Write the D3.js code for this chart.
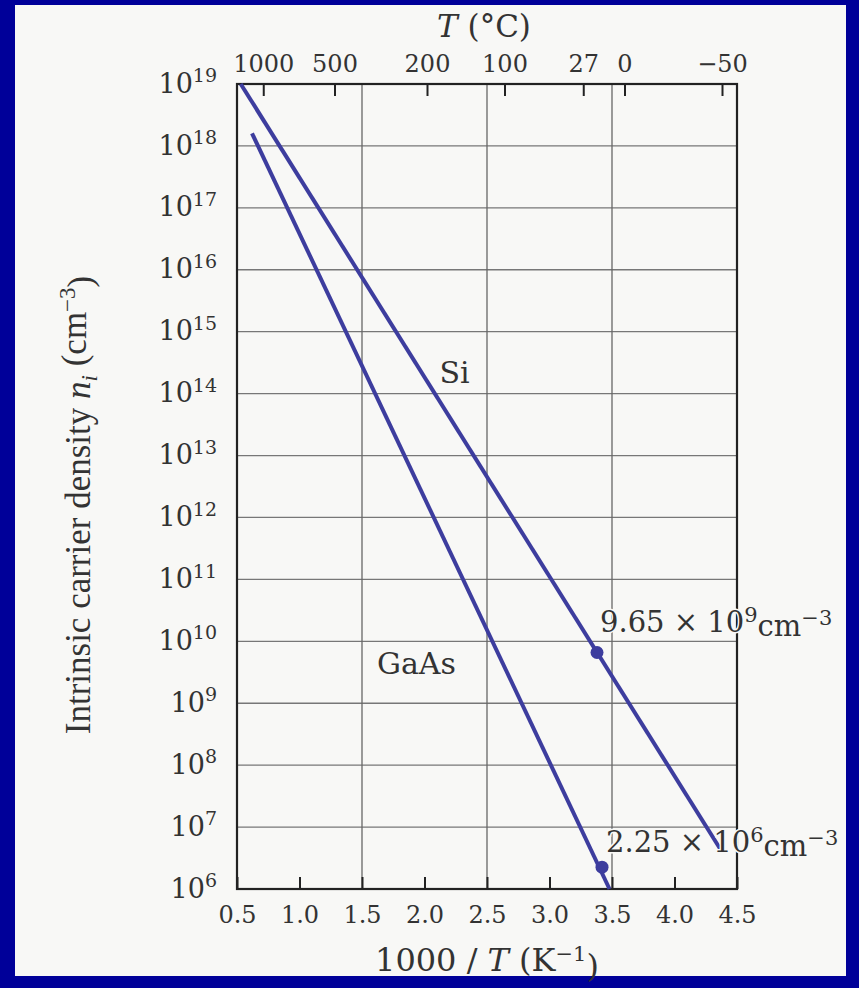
<!DOCTYPE html>
<html lang="en">

<head>
    <meta charset="utf-8">
    <title>Intrinsic carrier density vs 1000/T</title>
    <script type="text/javascript" src="https://d3js.org/d3.v7.min.js"></script>
    <style type="text/css">
        body { margin: 0; background: #000099; }
        svg { display: block; }
    </style>
</head>

<body>
    <script type="text/javascript">
        //Tick values and labels
        const bottomTicks = [0.5, 1.0, 1.5, 2.0, 2.5, 3.0, 3.5, 4.0, 4.5];
        const gridX = [1.5, 2.5, 3.5];
        const decades = [6, 7, 8, 9, 10, 11, 12, 13, 14, 15, 16, 17, 18, 19];
        //Top axis (T in Celsius) positions in 1000/T units
        const topTickPos = [0.71, 1.28, 2.02, 2.64, 3.27, 3.60, 4.38];
        const topTickLabels = ['1000', '500', '200', '100', '27', '0', '\u221250'];

        //Line end points [1000/T, n_i]
        const siLine = [[0.53, 1e19], [4.38, 4e6]];
        const gaasLine = [[0.62, 1.6e18], [3.48, 1e6]];

        //Marked room temperature points, as drawn
        const siPoint = [3.38, 6.6e9];
        const gaasPoint = [3.42, 2.25e6];
        //and the values written beside them
        const siNote = ['9.65', '9'];
        const gaasNote = ['2.25', '6'];

        //Canvas
        const canvasWidth = 859;
        const canvasHeight = 988;
        const plotLeft = 237, plotRight = 737, plotTop = 84, plotBottom = 889;
        const ink = '#333';
        const paper = '#f8f8f6';
        const lineColor = '#3d3d9e';

        const xScale = d3.scaleLinear()
            .domain([0.5, 4.5])
            .range([plotLeft, plotRight]);

        const yScale = d3.scaleLog()
            .domain([1e6, 1e19])
            .range([plotBottom, plotTop]);

        const svg = d3.select('body')
            .append('svg')
            .attr('width', canvasWidth)
            .attr('height', canvasHeight);

        //Scanned page
        svg.append('rect')
            .attr('x', 15).attr('y', 5)
            .attr('width', 831).attr('height', 971)
            .attr('fill', paper);

        //Grid lines
        svg.append('g').selectAll('line')
            .data(decades.slice(1, -1))
            .enter().append('line')
            .attr('x1', plotLeft).attr('x2', plotRight)
            .attr('y1', d => yScale(Math.pow(10, d)))
            .attr('y2', d => yScale(Math.pow(10, d)))
            .attr('stroke', '#777').attr('stroke-width', 1.3);

        svg.append('g').selectAll('line')
            .data(gridX)
            .enter().append('line')
            .attr('x1', d => xScale(d)).attr('x2', d => xScale(d))
            .attr('y1', plotTop).attr('y2', plotBottom)
            .attr('stroke', '#666').attr('stroke-width', 1.3);

        //Axes
        const bottomAxis = d3.axisBottom(xScale)
            .tickValues(bottomTicks)
            .tickFormat(d3.format('.1f'))
            .tickSizeInner(-12).tickSizeOuter(0).tickPadding(12);

        const topAxis = d3.axisTop(xScale)
            .tickValues(topTickPos)
            .tickFormat((d, i) => topTickLabels[i])
            .tickSizeInner(-12).tickSizeOuter(0).tickPadding(12);

        const leftAxis = d3.axisLeft(yScale)
            .tickValues(decades.map(d => Math.pow(10, d)))
            .tickSize(0).tickPadding(20)
            .tickFormat('');

        const gb = svg.append('g')
            .attr('transform', 'translate(0,' + plotBottom + ')')
            .call(bottomAxis);
        const gt = svg.append('g')
            .attr('transform', 'translate(0,' + plotTop + ')')
            .call(topAxis);
        const gl = svg.append('g')
            .attr('transform', 'translate(' + plotLeft + ',0)')
            .call(leftAxis);

        [gb, gt, gl].forEach(g => {
            g.select('.domain').remove();
            g.selectAll('line').attr('stroke', '#222').attr('stroke-width', 2);
            g.selectAll('text')
                .attr('font-family', 'DejaVu Serif')
                .attr('font-size', 24)
                .attr('fill', ink);
        });
        gb.selectAll('text').attr('dy', '0.9em');

        //Superscript decade labels
        gl.selectAll('.tick text')
            .attr('dy', '0.3em')
            .attr('font-size', 27)
            .each(function (d) {
                const t = d3.select(this);
                t.text('10');
                t.append('tspan')
                    .attr('dy', '-0.55em')
                    .attr('font-size', 19)
                    .text(Math.round(Math.log10(d)));
            });

        //Plot frame
        svg.append('rect')
            .attr('x', plotLeft).attr('y', plotTop)
            .attr('width', plotRight - plotLeft)
            .attr('height', plotBottom - plotTop)
            .attr('fill', 'none')
            .attr('stroke', '#222').attr('stroke-width', 2.2);

        //Carrier density lines
        const line = d3.line()
            .x(d => xScale(d[0]))
            .y(d => yScale(d[1]));

        svg.append('g').selectAll('path')
            .data([siLine, gaasLine])
            .enter().append('path')
            .attr('d', line)
            .attr('fill', 'none')
            .attr('stroke', lineColor)
            .attr('stroke-width', 4);

        svg.append('g').selectAll('circle')
            .data([siPoint, gaasPoint])
            .enter().append('circle')
            .attr('cx', d => xScale(d[0]))
            .attr('cy', d => yScale(d[1]))
            .attr('r', 6.5)
            .attr('fill', lineColor);

        //Annotations of the marked values
        function valueLabel(p, note, dx, dy) {
            const t = svg.append('text')
                .attr('x', xScale(p[0]) + dx)
                .attr('y', yScale(p[1]) + dy)
                .attr('font-family', 'DejaVu Serif')
                .attr('font-size', 29)
                .attr('fill', ink)
                .attr('stroke', paper).attr('stroke-width', 3)
                .attr('paint-order', 'stroke');
            t.append('tspan').text(note[0] + ' \u00d7 10');
            t.append('tspan').attr('dy', '-0.5em').attr('font-size', 21).text(note[1]);
            t.append('tspan').attr('dy', '0.5em').text('cm');
            t.append('tspan').attr('dy', '-0.55em').attr('font-size', 21).text('\u22123');
        }
        valueLabel(siPoint, siNote, 3, -20);
        valueLabel(gaasPoint, gaasNote, 4, -15);

        //Material names
        svg.append('text')
            .attr('x', xScale(2.12)).attr('y', yScale(Math.pow(10, 14.17)))
            .attr('font-family', 'DejaVu Serif').attr('font-size', 30)
            .attr('fill', ink)
            .text('Si');
        svg.append('text')
            .attr('x', xScale(1.62)).attr('y', yScale(Math.pow(10, 9.48)))
            .attr('font-family', 'DejaVu Serif').attr('font-size', 30)
            .attr('fill', ink)
            .text('GaAs');

        //Axis titles
        const topTitle = svg.append('text')
            .attr('x', 484).attr('y', 37)
            .attr('text-anchor', 'middle')
            .attr('font-family', 'DejaVu Serif').attr('font-size', 31)
            .attr('fill', ink);
        topTitle.append('tspan').attr('font-style', 'italic').text('T');
        topTitle.append('tspan').text(' (\u00b0C)');

        const bottomTitle = svg.append('text')
            .attr('x', 487).attr('y', 971)
            .attr('text-anchor', 'middle')
            .attr('font-family', 'DejaVu Serif').attr('font-size', 32)
            .attr('fill', ink);
        bottomTitle.append('tspan').text('1000 / ');
        bottomTitle.append('tspan').attr('font-style', 'italic').text('T');
        bottomTitle.append('tspan').text(' (K');
        bottomTitle.append('tspan').attr('dy', '-0.5em').attr('font-size', 21).text('\u22121');
        bottomTitle.append('tspan').attr('dy', '0.5em').text(')');

        const yTitle = svg.append('text')
            .attr('transform', 'translate(90,505) rotate(-90)')
            .attr('text-anchor', 'middle')
            .attr('font-family', 'Liberation Serif').attr('font-size', 35)
            .attr('fill', ink);
        yTitle.append('tspan').text('Intrinsic carrier density ');
        yTitle.append('tspan').attr('font-style', 'italic').text('n');
        yTitle.append('tspan').attr('font-style', 'italic').attr('font-size', 23).attr('dy', '0.3em').text('i');
        yTitle.append('tspan').attr('dy', '-0.3em').text(' (cm');
        yTitle.append('tspan').attr('dy', '-0.5em').attr('font-size', 23).text('\u22123');
        yTitle.append('tspan').attr('dy', '0.5em').text(')');
    </script>
</body>

</html>
